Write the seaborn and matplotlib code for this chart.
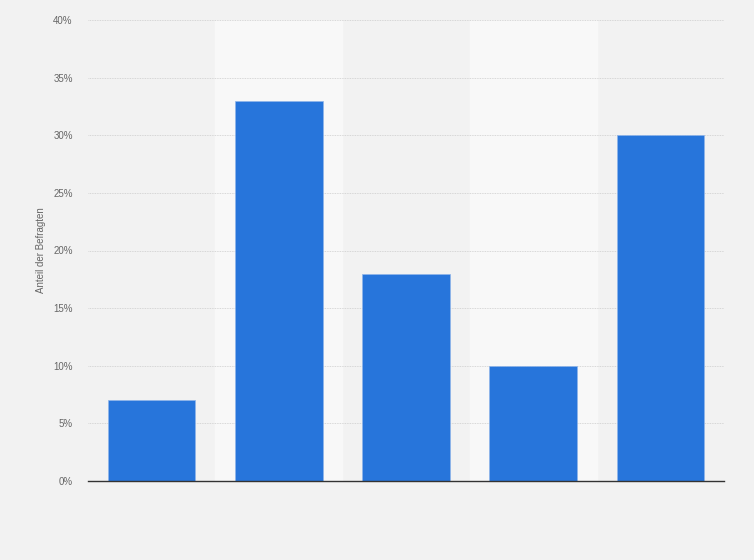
import seaborn as sns
import pandas as pd
import matplotlib.pyplot as plt
from matplotlib.ticker import FuncFormatter

# data (category names are not shown in the picture)
categories = ["Kategorie 1", "Kategorie 2", "Kategorie 3", "Kategorie 4", "Kategorie 5"]
shares = [7, 33, 18, 10, 30]
y_ticks = [0, 5, 10, 15, 20, 25, 30, 35, 40]

df = pd.DataFrame({"kategorie": categories, "anteil": shares})

sns.set_theme(style="white")
plt.rcParams['font.family'] = ['Liberation Sans', 'DejaVu Sans']

fig = plt.figure(figsize=(7.54, 5.60), dpi=100, facecolor="#f2f2f2")
ax = fig.add_axes([88/754, 79/560, 636/754, 461/560])
ax.set_facecolor("#f2f2f2")

# lighter background bands behind every second category
for i in range(len(categories)):
    if i % 2 == 1:
        ax.axvspan(i - 0.5, i + 0.5, color="#f8f8f8", zorder=0)

sns.barplot(data=df, x="kategorie", y="anteil", color="#2775db", saturation=1,
            width=0.69, edgecolor="#8fb5ea", linewidth=0.5, ax=ax, zorder=3)

ax.set_xlim(-0.5, len(categories) - 0.5)
ax.set_ylim(0, 40)
ax.set_yticks(y_ticks)
ax.yaxis.set_major_formatter(FuncFormatter(lambda v, p: f"{v:.0f}%"))
ax.tick_params(axis="y", labelsize=7, colors="#666666", length=0, pad=11)
ax.set_xticks([])
ax.set_xlabel("")
ax.set_ylabel("Anteil der Befragten", fontsize=7, color="#666666", labelpad=5)

ax.yaxis.grid(True, linestyle=(0, (1, 1)), color="#cccccc", linewidth=0.6, zorder=1)
ax.set_axisbelow(True)
for s in ["top", "right", "left"]:
    ax.spines[s].set_visible(False)
ax.spines["bottom"].set_color("#333333")
ax.spines["bottom"].set_linewidth(1)
ax.spines["bottom"].set_zorder(4)

fig.savefig("out.png", dpi=100, facecolor=fig.get_facecolor())
